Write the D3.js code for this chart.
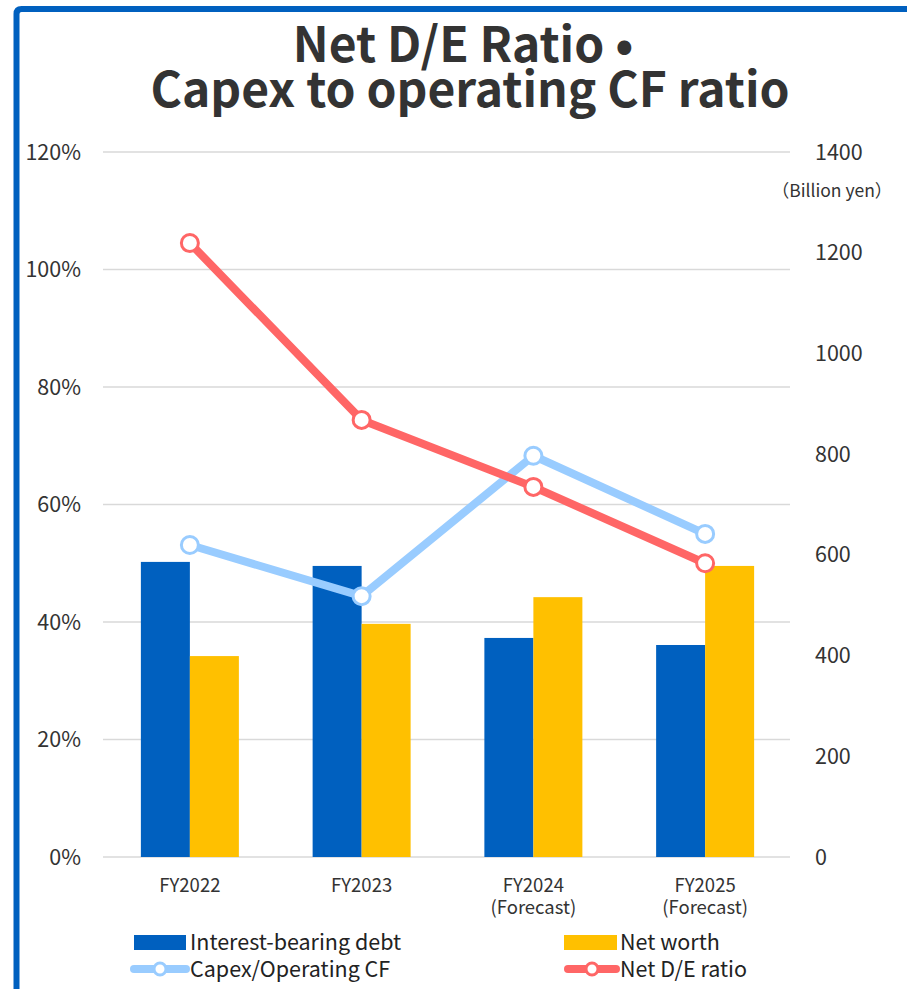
<!DOCTYPE html>
<html lang="en">
<head>
  <meta charset="UTF-8" />
  <title>Net D/E Ratio • Capex to operating CF ratio</title>
  <style>
    html, body { margin: 0; padding: 0; background: #fff; }
    svg { display: block; font-family: "Noto Sans CJK JP", "Noto Sans", sans-serif; }
    .grid line { stroke: #d9d9d9; stroke-width: 1.5px; }
    .tick-label { fill: #333; font-size: 21.5px; }
    .x-label { fill: #333; font-size: 18.5px; }
    .legend-text { fill: #222; font-size: 21.5px; }
  </style>
</head>
<body>
  <svg width="907" height="989"></svg>

  <script src="https://d3js.org/d3.v7.min.js"></script>
  <script>
    const categories = ["FY2022", "FY2023", "FY2024", "FY2025"];
    const subLabels = ["", "", "(Forecast)", "(Forecast)"];
    const debt = [586, 578, 435, 421];        // billion yen
    const netWorth = [399, 463, 516, 578];    // billion yen
    const capexRatio = [53.1, 44.4, 68.3, 55.0];  // %
    const deRatio = [104.5, 74.4, 63.0, 50.0];    // %
    const leftTicks = [0, 20, 40, 60, 80, 100, 120];
    const rightTicks = [0, 200, 400, 600, 800, 1000, 1200, 1400];

    const colors = {
      debt: "#0060BF",
      worth: "#FFC000",
      capex: "#99CCFF",
      de: "#FF6666"
    };

    const svg = d3.select("svg");

    // frame
    svg.append("path")
      .attr("d", "M16.5,989 L16.5,14 Q16.5,9 21.5,9 L907,9")
      .attr("fill", "none")
      .attr("stroke", "#0060BF")
      .attr("stroke-width", 6);

    // title
    const title = svg.append("text")
      .attr("text-anchor", "middle")
      .attr("fill", "#333")
      .attr("font-size", 48)
      .attr("font-weight", 700);
    title.append("tspan").attr("x", 463).attr("y", 62).text("Net D/E Ratio •");
    title.append("tspan").attr("x", 470).attr("y", 107).text("Capex to operating CF ratio");

    const plot = { left: 103, right: 790, top: 152, bottom: 857 };

    const x = d3.scaleBand()
      .domain(categories)
      .range([plot.left + 1, plot.right + 1])
      .paddingInner(0)
      .paddingOuter(0);

    const yLeft = d3.scaleLinear().domain([0, 120]).range([plot.bottom, plot.top]);
    const yRight = d3.scaleLinear().domain([0, 1400]).range([plot.bottom, plot.top]);

    // gridlines
    svg.append("g").attr("class", "grid")
      .selectAll("line")
      .data(leftTicks)
      .join("line")
      .attr("x1", plot.left).attr("x2", plot.right)
      .attr("y1", d => yLeft(d)).attr("y2", d => yLeft(d));

    // left axis labels
    svg.append("g")
      .selectAll("text")
      .data(leftTicks)
      .join("text")
      .attr("class", "tick-label")
      .attr("x", 81)
      .attr("y", d => yLeft(d))
      .attr("dy", "0.35em")
      .attr("text-anchor", "end")
      .text(d => d + "%");

    // right axis labels
    svg.append("g")
      .selectAll("text")
      .data(rightTicks)
      .join("text")
      .attr("class", "tick-label")
      .attr("x", 815)
      .attr("y", d => yRight(d))
      .attr("dy", "0.35em")
      .attr("text-anchor", "start")
      .text(d => d);

    svg.append("text")
      .attr("x", 832)
      .attr("y", 197)
      .attr("text-anchor", "middle")
      .attr("fill", "#333")
      .attr("font-size", 17.5)
      .text("（Billion yen）");

    // bars
    const barW = 49;
    const bars = svg.append("g");
    bars.selectAll("rect.debt")
      .data(debt)
      .join("rect")
      .attr("class", "debt")
      .attr("x", (d, i) => x(categories[i]) + x.bandwidth() / 2 - barW)
      .attr("width", barW)
      .attr("y", d => yRight(d))
      .attr("height", d => plot.bottom - yRight(d))
      .attr("fill", colors.debt);
    bars.selectAll("rect.worth")
      .data(netWorth)
      .join("rect")
      .attr("class", "worth")
      .attr("x", (d, i) => x(categories[i]) + x.bandwidth() / 2)
      .attr("width", barW)
      .attr("y", d => yRight(d))
      .attr("height", d => plot.bottom - yRight(d))
      .attr("fill", colors.worth);

    // x labels
    const xl = svg.append("g");
    categories.forEach((c, i) => {
      const cx = x(c) + x.bandwidth() / 2;
      xl.append("text").attr("class", "x-label")
        .attr("x", cx).attr("y", 892).attr("text-anchor", "middle").text(c);
      if (subLabels[i]) {
        xl.append("text").attr("class", "x-label")
          .attr("x", cx).attr("y", 914).attr("text-anchor", "middle").text(subLabels[i]);
      }
    });

    // lines
    function drawLine(values, color) {
      const pts = values.map((v, i) => [x(categories[i]) + x.bandwidth() / 2, yLeft(v)]);
      svg.append("path")
        .attr("d", d3.line()(pts))
        .attr("fill", "none")
        .attr("stroke", color)
        .attr("stroke-width", 8)
        .attr("stroke-linejoin", "round");
      svg.append("g")
        .selectAll("circle")
        .data(pts)
        .join("circle")
        .attr("cx", d => d[0])
        .attr("cy", d => d[1])
        .attr("r", 8.5)
        .attr("fill", "#fff")
        .attr("stroke", color)
        .attr("stroke-width", 3);
    }
    drawLine(capexRatio, colors.capex);
    drawLine(deRatio, colors.de);

    // legend
    const lg = svg.append("g");
    lg.append("rect").attr("x", 134).attr("y", 935).attr("width", 52).attr("height", 15).attr("fill", colors.debt);
    lg.append("text").attr("class", "legend-text").attr("x", 190).attr("y", 942).attr("dy", "0.35em").text("Interest-bearing debt");
    lg.append("rect").attr("x", 564).attr("y", 935).attr("width", 53).attr("height", 15).attr("fill", colors.worth);
    lg.append("text").attr("class", "legend-text").attr("x", 620).attr("y", 942).attr("dy", "0.35em").text("Net worth");

    function legendLine(x0, x1, color) {
      lg.append("line").attr("x1", x0).attr("x2", x1).attr("y1", 969).attr("y2", 969)
        .attr("stroke", color).attr("stroke-width", 8).attr("stroke-linecap", "round");
      lg.append("circle").attr("cx", (x0 + x1) / 2).attr("cy", 969).attr("r", 6)
        .attr("fill", "#fff").attr("stroke", color).attr("stroke-width", 3);
    }
    legendLine(134, 186, colors.capex);
    lg.append("text").attr("class", "legend-text").attr("x", 190).attr("y", 969).attr("dy", "0.35em").text("Capex/Operating CF");
    legendLine(568, 616, colors.de);
    lg.append("text").attr("class", "legend-text").attr("x", 620).attr("y", 969).attr("dy", "0.35em").text("Net D/E ratio");
  </script>
</body>
</html>
